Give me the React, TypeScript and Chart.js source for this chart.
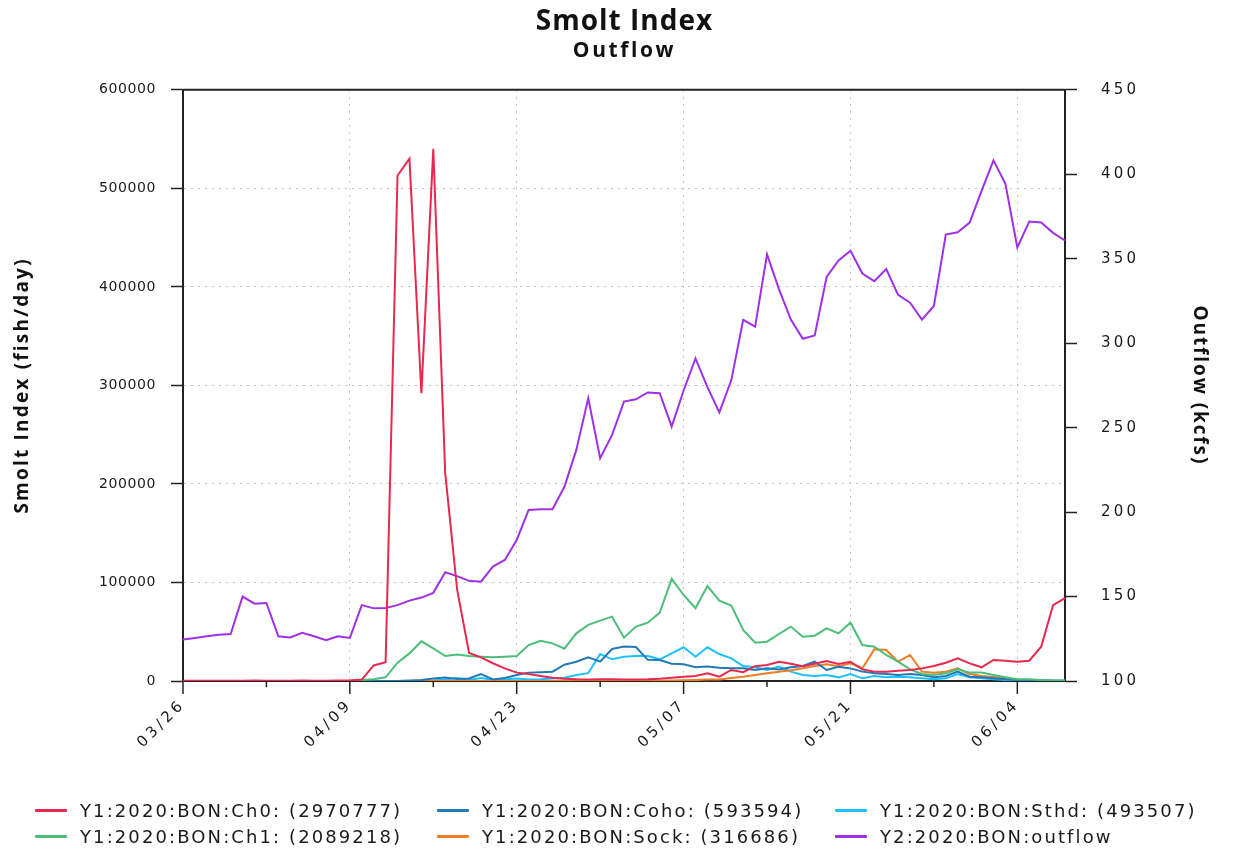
import React, { useEffect, useRef } from 'react';
import { Chart, registerables } from 'chart.js';

Chart.register(...registerables);

const dates = [
  '03/26', '03/27', '03/28', '03/29', '03/30', '03/31',
  '04/01', '04/02', '04/03', '04/04', '04/05', '04/06', '04/07', '04/08', '04/09', '04/10',
  '04/11', '04/12', '04/13', '04/14', '04/15', '04/16', '04/17', '04/18', '04/19', '04/20',
  '04/21', '04/22', '04/23', '04/24', '04/25', '04/26', '04/27', '04/28', '04/29', '04/30',
  '05/01', '05/02', '05/03', '05/04', '05/05', '05/06', '05/07', '05/08', '05/09', '05/10',
  '05/11', '05/12', '05/13', '05/14', '05/15', '05/16', '05/17', '05/18', '05/19', '05/20',
  '05/21', '05/22', '05/23', '05/24', '05/25', '05/26', '05/27', '05/28', '05/29', '05/30', '05/31',
  '06/01', '06/02', '06/03', '06/04', '06/05', '06/06', '06/07', '06/08',
];

const ch0 = [
  200, 200, 300, 300, 300, 300, 400, 300, 300, 300, 400, 300, 300, 400, 500,
  1500, 15800, 19000, 513000, 530000, 292000, 540000, 211000, 92700, 28500,
  24000, 18000, 12800, 8500, 7100, 5000, 3400, 2400, 1700, 1500,
  1700, 1700, 1500, 1500, 1700, 2400, 3400, 4400, 5100, 7800,
  4400, 11200, 9000, 15000, 16200, 19600, 17600, 15000, 17500, 20300,
  17200, 19600, 11800, 9500, 9500, 10500, 11200, 12800, 15200, 18600,
  23000, 17900, 13900, 21300, 20600, 19600, 20600, 34800, 77000, 84000,
];

const ch1 = [
  0, 0, 0, 0, 0, 0, 0, 0, 0, 0, 0, 0, 0, 0, 300,
  1000, 1700, 3700, 18600, 28000, 40300, 33100, 25400, 27000, 25400,
  24700, 24000, 24700, 25400, 36500, 40900, 38200, 32800, 48400, 56900,
  61300, 65300, 44000, 55200, 59200, 69400, 103600, 87300, 73800, 96400,
  81600, 76500, 51800, 38900, 39900, 47700, 55200, 45000, 46000, 53400,
  48300, 59200, 36500, 34800, 26400, 19600, 11800, 7100, 6100, 7800,
  11800, 8500, 8500, 6100, 3700, 1700, 1700, 1000, 400, 400,
];

const coho = [
  0, 0, 0, 0, 0, 0, 0, 0, 0, 0, 0, 0, 0, 0, 0,
  0, 0, 0, 0, 500, 1000, 2500, 3500, 2000, 2500,
  7000, 1500, 3000, 6000, 8500, 9000, 9500, 16500, 19600, 24000,
  19600, 32500, 34900, 34500, 21500, 21300, 17600, 17000, 13900, 14600,
  13500, 12900, 12900, 11200, 12900, 11800, 13900, 15200, 19600, 11200,
  14500, 12800, 9500, 7800, 7100, 6100, 7100, 6100, 3700, 5100,
  9500, 4400, 3700, 2700, 1700, 1000, 500, 500, 300, 300,
];

const sock = [
  0, 0, 0, 0, 0, 0, 0, 0, 0, 0, 0, 0, 0, 0, 0,
  0, 0, 0, 0, 0, 0, 0, 0, 0, 0,
  0, 0, 0, 100, 100, 100, 100, 200, 200, 200,
  200, 200, 200, 300, 300, 300, 500, 700, 1000, 1500,
  1500, 3000, 4400, 6100, 7800, 9500, 11000, 12900, 15200, 17000,
  15000, 18000, 13000, 32100, 31400, 19600, 26400, 9500, 8500, 9500,
  12800, 7000, 5000, 4000, 2700, 1000, 500, 300, 200, 100,
];

const sthd = [
  0, 0, 0, 0, 0, 0, 0, 0, 0, 0, 0, 0, 0, 0, 0,
  0, 0, 0, 0, 0, 0, 500, 1500, 3000, 1000,
  3000, 1000, 1500, 2500, 1500, 1700, 2500, 3400, 6100, 8000,
  27400, 22000, 24700, 25400, 25400, 22000, 28100, 34200, 24700, 34200,
  27400, 23000, 15200, 13900, 11200, 14600, 9500, 6100, 5100, 6100,
  3700, 7100, 2700, 5100, 3700, 4400, 3700, 2700, 1700, 2700,
  7100, 3700, 2700, 1700, 1000, 700, 300, 300, 200, 200,
];

const outflow = [
  124.6, 125.5, 126.5, 127.4, 127.8, 150.0, 145.8, 146.2, 126.5, 125.8,
  128.5, 126.5, 124.2, 126.5, 125.5, 144.9, 143.0, 143.2, 144.9, 147.6,
  149.4, 152.2, 164.4, 162.1, 159.3, 158.8, 167.7, 171.7, 183.5, 201.3,
  201.7, 201.7, 215.0, 236.8, 267.4, 231.9, 245.7, 265.4, 266.8, 270.8,
  270.4, 250.6, 272.0, 291.0, 274.0, 259.0, 278.0, 313.8, 309.8, 352.6,
  332.0, 314.0, 302.6, 304.6, 339.2, 349.0, 354.7, 341.2, 336.7, 343.9,
  328.6, 324.0, 313.9, 322.0, 364.3, 365.7, 371.4, 390.2, 408.2, 394.3,
  356.7, 372.0, 371.4, 365.3, 360.8,
];

const leftTicks = [0, 100000, 200000, 300000, 400000, 500000, 600000];
const rightTicks = [100, 150, 200, 250, 300, 350, 400, 450];

const seriesNames = [
  'Y1:2020:BON:Ch0: (2970777)',
  'Y1:2020:BON:Ch1: (2089218)',
  'Y1:2020:BON:Coho: (593594)',
  'Y1:2020:BON:Sock: (316686)',
  'Y1:2020:BON:Sthd: (493507)',
  'Y2:2020:BON:outflow',
];
const seriesColors = ['#e8294d', '#4dbd7a', '#2379b5', '#ee7d23', '#1ec0ff', '#a030e8'];
const seriesData = [ch0, ch1, coho, sock, sthd, outflow];
const seriesAxis = ['y', 'y', 'y', 'y', 'y', 'y2'];

const TEXT_COLOR = '#1a1a1a';
const GRID_COLOR = '#c4c4c4';
const TITLE_SHIFT = 8;

function wrapMethod(obj: any, method: string, spacing: number, dx = 0) {
  const flag = '__wrapped_' + method;
  if (!obj || obj[flag] || typeof obj[method] !== 'function') return;
  const orig = obj[method].bind(obj);
  obj[method] = (...args: any[]) => {
    const ctx = obj.ctx;
    ctx.save();
    (ctx as any).letterSpacing = spacing + 'px';
    if (dx) ctx.translate(dx, 0);
    const r = orig(...args);
    ctx.restore();
    return r;
  };
  obj[flag] = true;
}

const textStyling = {
  id: 'textStyling',
  beforeDraw(chart: any) {
    const { x, y, y2 } = chart.scales;
    wrapMethod(x, 'drawLabels', 3.5);
    wrapMethod(y2, 'drawLabels', 3.2);
    wrapMethod(y, 'drawLabels', 0.6);
    wrapMethod(y, 'drawTitle', 2.2);
    wrapMethod(y2, 'drawTitle', 1.9);
    for (const box of chart.boxes) {
      const t = box && box.options && box.options.text;
      if (t === 'Smolt Index') wrapMethod(box, 'draw', 1.0, TITLE_SHIFT);
      if (t === 'Outflow') wrapMethod(box, 'draw', 2.6, TITLE_SHIFT);
    }
  },
};

const frameAndTicks = {
  id: 'frameAndTicks',
  afterDraw(chart: any) {
    const { ctx, chartArea } = chart;
    const x = chart.scales.x;
    ctx.save();
    ctx.strokeStyle = '#222';
    ctx.lineWidth = 1.5;
    for (let i = 0; i < dates.length; i += 7) {
      const px = x.getPixelForValue(i);
      const len = i % 14 === 0 ? 13 : 6;
      ctx.beginPath();
      ctx.moveTo(px, chartArea.bottom);
      ctx.lineTo(px, chartArea.bottom + len);
      ctx.stroke();
    }
    ctx.lineWidth = 2;
    ctx.beginPath();
    ctx.moveTo(chartArea.left, chartArea.top);
    ctx.lineTo(chartArea.right, chartArea.top);
    ctx.stroke();
    ctx.restore();
  },
};

export default function App() {
  const ref = useRef<HTMLCanvasElement>(null);

  useEffect(() => {
    const canvas = ref.current;
    if (!canvas) return;
    const datasets = seriesNames.map((name, i) => ({
      label: name,
      data: seriesData[i],
      borderColor: seriesColors[i],
      backgroundColor: seriesColors[i],
      borderWidth: 2,
      pointRadius: 0,
      tension: 0,
      fill: false,
      yAxisID: seriesAxis[i],
    }));
    const chart = new Chart(canvas, {
      type: 'line',
      data: { labels: dates, datasets },
      plugins: [textStyling, frameAndTicks],
      options: {
        responsive: false,
        animation: false,
        devicePixelRatio: 1,
        layout: { padding: 0 },
        plugins: {
          legend: { display: false },
          tooltip: { enabled: false },
          title: {
            display: true,
            text: 'Smolt Index',
            color: '#111',
            font: { family: 'Open Sans', weight: 'bold', size: 28 },
            padding: { top: 5, bottom: 0 },
          },
          subtitle: {
            display: true,
            text: 'Outflow',
            color: '#111',
            font: { family: 'Open Sans', weight: 'bold', size: 21 },
            padding: { top: 0, bottom: 26 },
          },
        },
        scales: {
          x: {
            type: 'category',
            offset: false,
            afterFit: (s: any) => { s.height = 171; },
            grid: {
              color: (c: any) => (c.index % 14 === 0 && c.index > 0 ? GRID_COLOR : 'transparent'),
              lineWidth: 1,
              drawTicks: true,
              tickLength: 13,
              tickColor: 'transparent',
            },
            border: { display: true, color: '#222', width: 2, dash: [2, 5] },
            ticks: {
              autoSkip: false,
              maxRotation: 45,
              minRotation: 45,
              padding: 2,
              color: TEXT_COLOR,
              font: { family: 'DejaVu Sans', size: 15 },
              callback: (_v: any, i: number) => (i % 14 === 0 ? dates[i] : ''),
            },
          },
          y: {
            type: 'linear',
            position: 'left',
            min: leftTicks[0],
            max: leftTicks[leftTicks.length - 1],
            afterFit: (s: any) => { s.width = 183; },
            afterBuildTicks: (s: any) => { s.ticks = leftTicks.map((v) => ({ value: v })); },
            grid: {
              color: GRID_COLOR,
              lineWidth: 1,
              tickLength: 12,
              tickColor: '#222',
              tickWidth: 1.5,
            },
            border: { display: true, color: '#222', width: 2, dash: [2, 5] },
            ticks: {
              padding: 15,
              color: TEXT_COLOR,
              font: { family: 'DejaVu Sans', size: 14 },
              callback: (v: any) => String(v),
            },
            title: {
              display: true,
              text: 'Smolt Index (fish/day)',
              color: '#111',
              font: { family: 'Open Sans', weight: 'bold', size: 19 },
              padding: { top: 11, bottom: 0 },
            },
          },
          y2: {
            type: 'linear',
            position: 'right',
            min: rightTicks[0],
            max: rightTicks[rightTicks.length - 1],
            afterFit: (s: any) => { s.width = 168; },
            afterBuildTicks: (s: any) => { s.ticks = rightTicks.map((v) => ({ value: v })); },
            grid: {
              drawOnChartArea: false,
              tickLength: 12,
              tickColor: '#222',
              tickWidth: 1.5,
            },
            border: { display: true, color: '#222', width: 2 },
            ticks: {
              padding: 24,
              color: TEXT_COLOR,
              font: { family: 'DejaVu Sans', size: 15 },
              callback: (v: any) => String(v),
            },
            title: {
              display: true,
              text: 'Outflow (kcfs)',
              color: '#111',
              font: { family: 'Open Sans', weight: 'bold', size: 19 },
              padding: { top: 22, bottom: 0 },
            },
          },
        },
      },
    } as any);
    return () => chart.destroy();
  }, []);

  const legendCols = [35, 437, 835];
  const legendRows = [810, 836];
  const legendOrder = [0, 2, 4, 1, 3, 5];

  return (
    <div style={{ position: 'fixed', left: 0, top: 0, width: 1233, height: 852, background: '#fff', overflow: 'hidden' }}>
      <canvas ref={ref} width={1233} height={852} style={{ display: 'block' }} />
      {legendOrder.map((si, k) => {
        const col = k % 3;
        const row = Math.floor(k / 3);
        const left = legendCols[col];
        const cy = legendRows[row];
        return (
          <div key={si} style={{ position: 'absolute', left, top: cy - 12, height: 24, display: 'flex', alignItems: 'center', whiteSpace: 'nowrap' }}>
            <div style={{ width: 32, height: 3, background: seriesColors[si], borderRadius: 1 }} />
            <span style={{ marginLeft: 13, fontFamily: 'DejaVu Sans', fontSize: 18, letterSpacing: '2.1px', color: TEXT_COLOR }}>
              {seriesNames[si]}
            </span>
          </div>
        );
      })}
    </div>
  );
}
